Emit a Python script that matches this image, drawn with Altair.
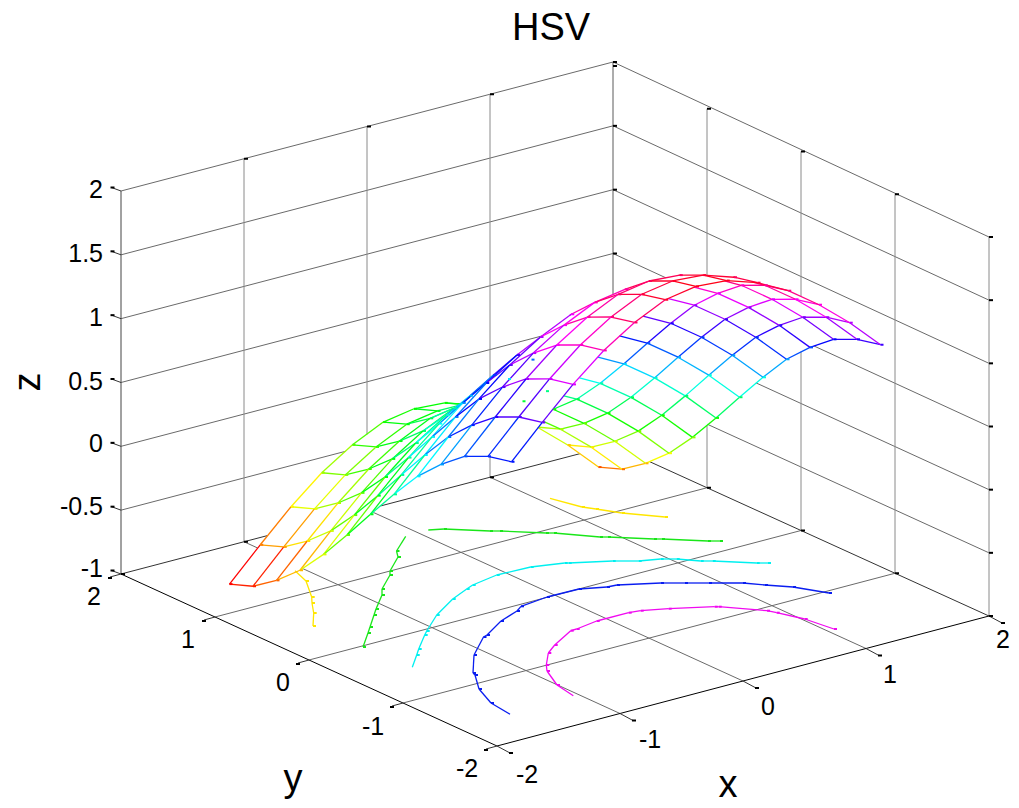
import colorsys
import altair as alt
import numpy as np
import pandas as pd

W, H = 1003, 792
FONT = "Liberation Sans"

# ---- surface values -----------------------------------------------------
X_VALUES = [-1.5, -1.25, -1.0, -0.75, -0.5, -0.25, 0.0, 0.25, 0.5, 0.75, 1.0, 1.25, 1.5]
Y_VALUES = [1.5, 1.25, 1.0, 0.75, 0.5, 0.25, 0.0, -0.25, -0.5, -0.75, -1.0, -1.25, -1.5]
# height along the edge x = -1.5, one value per Y_VALUES entry
Z_EDGE = [-1.04, -0.974, -0.845, -0.683, -0.476, -0.241, 0.004, 0.243, 0.467, 0.643, 0.789, 0.872, 0.912]
# rise above that edge across x, one value per X_VALUES entry
Z_RISE = [0.0, 0.245, 0.48, 0.683, 0.839, 0.954, 0.995, 0.978, 0.898, 0.772, 0.599, 0.395, 0.159]
# covered grid nodes whose dots still show through in the picture (row, column)
SHOW_THROUGH = [(5, 6), (4, 6), (3, 8), (2, 8)]

# ---- contour lines on the floor -----------------------------------------
C_MAGENTA = [(573.3, 695.7), (557, 685), (547, 671), (546.3, 665), (548.3, 653), (554.7, 645), (570.7, 630.7),
             (576.7, 629), (596.7, 621), (628.7, 612.7), (640.7, 610.7), (668.7, 608.7), (714.7, 606.7),
             (718.7, 606.7), (767, 610.7), (776.7, 612.7), (804.7, 619), (834, 629)]
C_BLUE = [(510, 714.3), (491, 703), (479, 689), (475, 675), (473, 673), (474, 655), (483.5, 637), (487, 635),
          (501, 621), (517, 611), (521, 606.3), (547, 597), (579, 589), (607, 587), (617, 585), (661, 583),
          (685, 583), (709, 583), (743, 583), (765, 585), (793, 587), (829, 593)]
C_CYAN = [(412.3, 667.3), (416.7, 655), (418.7, 649), (424.7, 635), (426.7, 631), (436.7, 615), (452.7, 599),
          (466.7, 589), (472.7, 585), (496.7, 575), (530.7, 567), (564.7, 563), (568.7, 563), (612.7, 561),
          (638.7, 561), (660.7, 559), (676.7, 559), (700.7, 561), (712.7, 561), (756.7, 563), (768, 563)]
C_GREEN_A = [(405.7, 536.3), (396.5, 551), (398, 557), (390, 571), (390, 575), (382, 589), (382, 595),
             (376, 609), (374, 615), (370, 627), (368, 633), (363, 647)]
C_GREEN_B = [(428.3, 530), (444, 529), (490, 531), (500, 531), (546, 533), (554, 533), (600, 537), (608, 537),
             (654, 539), (662, 539), (708, 541), (720, 541)]
C_YELLOW_A = [(295, 570.7), (306, 581), (311.7, 597), (312, 603), (313.7, 613), (313, 626)]
C_YELLOW_B = [(550, 498.3), (582, 507), (596, 509), (622, 513), (665, 517)]
CONTOURS = [(C_YELLOW_A, "#ffe600"), (C_YELLOW_B, "#ffe600"), (C_GREEN_A, "#19e619"), (C_GREEN_B, "#19e619"),
            (C_CYAN, "#00f0f0"), (C_BLUE, "#0a1ef0"), (C_MAGENTA, "#f00af0")]

# ---- axes ----------------------------------------------------------------
Z_TICKS = ["-1", "-0.5", "0", "0.5", "1", "1.5", "2"]
XY_TICKS = ["-2", "-1", "0", "1", "2"]
CORNER_L, CORNER_B, CORNER_R, CORNER_F = (121, 574), (613, 445), (989, 616), (497, 746)
HEIGHT_L, HEIGHT_B, HEIGHT_R = 383, 383, 379
Z_LABEL_POS = [(103, 569), (103, 507), (103, 444), (103, 382), (103, 318), (103, 254), (103, 190)]
Y_LABEL_POS = [(94, 597), (188, 640), (283, 683), (373, 727), (467, 769)]
X_LABEL_POS = [(527, 775), (650, 740), (768, 707), (890, 675), (1003, 640)]


def project(x, y, z):
    sx = 121 + 123 * (x + 2) + 94 * (2 - y)
    sy = 574 - 32.25 * (x + 2) + 42.25 * (2 - y) - 127.6 * (z + 1)
    return sx, sy


def hex_of(z):
    t = min(1.0, max(0.0, (z - ZMIN) / (ZMAX - ZMIN)))
    r, g, b = colorsys.hsv_to_rgb(t * 0.985, 1, 1)
    return "#%02x%02x%02x" % (round(r * 255), round(g * 255), round(b * 255))


Z = np.array([[e + r for r in Z_RISE] for e in Z_EDGE])
ZMIN, ZMAX = float(Z.min()), float(Z.max())
N = len(Y_VALUES)
SX = np.zeros((N, N)); SY = np.zeros((N, N)); NEAR = np.zeros((N, N))
for i, yv in enumerate(Y_VALUES):
    for j, xv in enumerate(X_VALUES):
        SX[i, j], SY[i, j] = project(xv, yv, Z[i, j])
        NEAR[i, j] = -xv - 1.3085 * yv + 0.686 * Z[i, j]

tri = []
for i in range(N - 1):
    for j in range(N - 1):
        a, b, c, d = (i, j), (i + 1, j), (i + 1, j + 1), (i, j + 1)
        tri.append((a, b, c)); tri.append((a, c, d))
T = np.array([[SX[p], SY[p], NEAR[p]] for t in tri for p in t]).reshape(-1, 3, 3)
A, B, C = T[:, 0], T[:, 1], T[:, 2]
DET = (B[:, 1] - C[:, 1]) * (A[:, 0] - C[:, 0]) + (C[:, 0] - B[:, 0]) * (A[:, 1] - C[:, 1])
DET[np.abs(DET) < 1e-6] = 1e-6


def hidden(px, py, near=None):
    u = ((B[:, 1] - C[:, 1]) * (px - C[:, 0]) + (C[:, 0] - B[:, 0]) * (py - C[:, 1])) / DET
    v = ((C[:, 1] - A[:, 1]) * (px - C[:, 0]) + (A[:, 0] - C[:, 0]) * (py - C[:, 1])) / DET
    w = 1 - u - v
    inside = (u >= 0) & (v >= 0) & (w >= 0)
    if not inside.any():
        return False
    if near is None:
        return True
    front = u * A[:, 2] + v * B[:, 2] + w * C[:, 2]
    return bool(np.any(front[inside] > near + 0.04))


def visible_runs(x1, y1, x2, y2, n1=None, n2=None):
    n = max(2, int(np.hypot(x2 - x1, y2 - y1) / 1.0))
    runs, start = [], None
    for k in range(n):
        t = (k + 0.5) / n
        near = None if n1 is None else n1 + (n2 - n1) * t
        if hidden(x1 + (x2 - x1) * t, y1 + (y2 - y1) * t, near):
            if start is not None:
                runs.append((start, k / n)); start = None
        elif start is None:
            start = k / n
    if start is not None:
        runs.append((start, 1.0))
    return [(x1 + (x2 - x1) * a, y1 + (y2 - y1) * a, x1 + (x2 - x1) * b, y1 + (y2 - y1) * b) for a, b in runs]


rows = []


def add(x1, y1, x2, y2, color, width=1.0):
    rows.append(dict(x=x1, y=y1, x2=x2, y2=y2, c=color, w=width))


def lerp(p, q, t):
    return p[0] + (q[0] - p[0]) * t, p[1] + (q[1] - p[1]) * t


def add_bg(p, q, color, width=1.0):
    for r in visible_runs(p[0], p[1], q[0], q[1]):
        add(*r, color, width)


def dash(p, color="#000000"):
    if not hidden(p[0], p[1]):
        add(p[0], p[1], p[0] + 4, p[1], color, 2)


GRID = "#6a6a6a"
VERT = "#8a8a8a"
n_z = len(Z_TICKS)
# horizontal lines round the two back walls
for k in range(1, n_z):
    t = k / (n_z - 1)
    pl = (CORNER_L[0], CORNER_L[1] - HEIGHT_L * t)
    pb = (CORNER_B[0], CORNER_B[1] - HEIGHT_B * t)
    pr = (CORNER_R[0], CORNER_R[1] - HEIGHT_R * t)
    add_bg(pl, pb, GRID); add_bg(pb, pr, GRID)
# vertical lines on the walls
for k in range(1, 5):
    t = k / 4
    p = lerp(CORNER_L, CORNER_B, t)
    if k < 4:
        add_bg(p, (p[0], p[1] - HEIGHT_L), VERT)
    q = lerp(CORNER_B, CORNER_R, t)
    add_bg(q, (q[0], q[1] - HEIGHT_R), VERT)
add_bg(CORNER_B, (CORNER_B[0], CORNER_B[1] - HEIGHT_B), "#5a5a5a")
add_bg(CORNER_L, (CORNER_L[0], CORNER_L[1] - HEIGHT_L), "#444444")
# floor grid
for k in range(1, 4):
    t = k / 4
    add_bg(lerp(CORNER_F, CORNER_R, t), lerp(CORNER_L, CORNER_B, t), GRID)
    add_bg(lerp(CORNER_L, CORNER_F, t), lerp(CORNER_B, CORNER_R, t), GRID)
# floor edges
add_bg(CORNER_L, CORNER_B, "#333333"); add_bg(CORNER_B, CORNER_R, "#333333")
add(*CORNER_L, *CORNER_F, "#000000"); add(*CORNER_F, *CORNER_R, "#000000")
# ticks
for k in range(n_z):
    t = k / (n_z - 1)
    pl = (CORNER_L[0], CORNER_L[1] - HEIGHT_L * t)
    add(pl[0], pl[1], pl[0] - 9.5, pl[1] - 3.5, "#333333")
    dash((pl[0] - 10.5, pl[1] - 3.5))
    dash((CORNER_B[0], CORNER_B[1] - HEIGHT_B * t))
    dash((CORNER_R[0], CORNER_R[1] - HEIGHT_R * t))
for k in range(5):
    t = k / 4
    p = lerp(CORNER_L, CORNER_F, t)
    add(p[0], p[1], p[0] - 11, p[1] + 3, "#333333"); dash((p[0] - 13, p[1] + 4))
    q = lerp(CORNER_F, CORNER_R, t)
    add(q[0], q[1], q[0] + 13, q[1] + 7, "#333333"); dash((q[0] + 12, q[1] + 7))
    w1 = lerp(CORNER_L, CORNER_B, t)
    if k > 0:
        dash(w1); dash((w1[0], w1[1] - HEIGHT_L))
    w2 = lerp(CORNER_B, CORNER_R, t)
    dash(w2); dash((w2[0], w2[1] - HEIGHT_R))
dash(CORNER_L)

# contour lines
for pts, col in CONTOURS:
    for p, q in zip(pts[:-1], pts[1:]):
        add(p[0], p[1], q[0], q[1], col, 1.3)
for pts, col in CONTOURS:
    for p in pts[1:]:
        add(p[0], p[1], p[0] + 3, p[1], col, 2)

# mesh, each edge cut where the surface covers it
for i in range(N):
    for j in range(N):
        if j < N - 1:
            for r in visible_runs(SX[i, j], SY[i, j], SX[i, j + 1], SY[i, j + 1], NEAR[i, j], NEAR[i, j + 1]):
                add(*r, hex_of(Z[i, j]), 1.3)
        if i < N - 1:
            for r in visible_runs(SX[i, j], SY[i, j], SX[i + 1, j], SY[i + 1, j], NEAR[i, j], NEAR[i + 1, j]):
                add(*r, hex_of(Z[i + 1, j]), 1.3)
for i in range(N):
    for j in range(N):
        if (i, j) in SHOW_THROUGH or not hidden(SX[i, j], SY[i, j], NEAR[i, j]):
            add(SX[i, j], SY[i, j], SX[i, j] + 3, SY[i, j], hex_of(Z[i, j]), 2)

sx_scale = alt.Scale(domain=[8, 8 + W], range=[0, W], nice=False, zero=False)
sy_scale = alt.Scale(domain=[8 + H, 8], range=[H, 0], nice=False, zero=False)

rules = alt.Chart(pd.DataFrame(rows)).mark_rule().encode(
    x=alt.X("x:Q", scale=sx_scale, axis=None),
    y=alt.Y("y:Q", scale=sy_scale, axis=None),
    x2="x2:Q", y2="y2:Q",
    color=alt.Color("c:N", scale=None),
    strokeWidth=alt.StrokeWidth("w:Q", scale=None),
)


def text_layer(labels, size, align="center", baseline="middle", angle=0):
    df = pd.DataFrame([dict(x=p[0], y=p[1], t=s) for s, p in labels])
    return alt.Chart(df).mark_text(font=FONT, fontSize=size, align=align, baseline=baseline, angle=angle,
                                   color="#000000").encode(
        x=alt.X("x:Q", scale=sx_scale, axis=None),
        y=alt.Y("y:Q", scale=sy_scale, axis=None),
        text="t:N",
    )


chart = alt.layer(
    rules,
    text_layer(list(zip(Z_TICKS, Z_LABEL_POS)), 25, align="right"),
    text_layer(list(zip(XY_TICKS[::-1], Y_LABEL_POS)), 25),
    text_layer(list(zip(XY_TICKS, X_LABEL_POS)), 25),
    text_layer([("HSV", (551, 29))], 38),
    text_layer([("x", (728, 786)), ("y", (293, 780))], 38),
    text_layer([("z", (29, 382))], 38, angle=270),
).properties(width=W, height=H, padding=0, autosize=alt.AutoSizeParams(type="none"),
             background="white").configure_view(stroke=None)

chart.save("out.html", embed_options={"renderer": "svg", "actions": False})
